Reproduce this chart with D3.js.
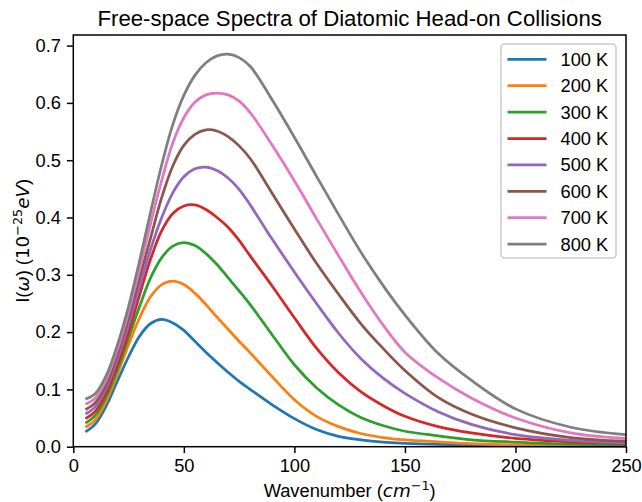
<!DOCTYPE html>
<html><head><meta charset="utf-8">
<script src="https://cdn.jsdelivr.net/npm/d3@7"></script>
<style>
html,body{margin:0;padding:0;background:#fff;}
svg text{font-family:"Liberation Sans",Arial,Helvetica,sans-serif;fill:#000;}
</style></head>
<body>
<svg id="chart" width="642" height="502"></svg>
<script>
// ---- data ----
const wavenumbers = [5.5, 10, 15, 20, 25, 30, 35, 40, 45, 50, 55, 60, 65, 70, 75, 80, 90, 100, 110, 120, 130, 140, 150, 165, 180, 200, 225, 250];
const seriesNames = ["100 K", "200 K", "300 K", "400 K", "500 K", "600 K", "700 K", "800 K"];
const i100 = [.026, .040, .072, .115, .157, .193, .215, .222, .216, .203, .184, .165, .147, .130, .114, .100, .073, .049, .030, .018, .012, .008, .006, .004, .003, .002, .001, .001];
const i200 = [.034, .047, .080, .127, .178, .225, .262, .283, .289, .283, .268, .248, .226, .205, .184, .164, .122, .082, .053, .035, .023, .016, .012, .0085, .0055, .003, .002, .001];
const i300 = [.041, .055, .088, .135, .190, .245, .295, .330, .350, .356, .351, .337, .318, .295, .272, .248, .195, .143, .103, .073, .051, .037, .027, .019, .012, .008, .0045, .003];
const i400 = [.049, .062, .095, .143, .200, .265, .328, .377, .407, .420, .422, .414, .400, .383, .360, .333, .280, .225, .172, .129, .096, .072, .053, .035, .024, .0145, .0085, .0055];
const i500 = [.057, .070, .103, .153, .213, .280, .345, .400, .443, .471, .485, .488, .482, .469, .449, .422, .362, .305, .250, .198, .154, .120, .093, .061, .039, .021, .011, .0065];
const i600 = [.065, .077, .110, .162, .225, .295, .365, .435, .490, .526, .545, .553, .551, .541, .525, .503, .442, .380, .320, .266, .215, .172, .133, .086, .057, .033, .016, .0095];
const i700 = [.074, .085, .118, .170, .235, .310, .390, .465, .530, .574, .601, .614, .617, .614, .603, .583, .526, .464, .398, .333, .270, .213, .165, .120, .085, .050, .024, .014];
const i800 = [.083, .093, .125, .178, .245, .325, .410, .492, .562, .613, .648, .670, .682, .685, .679, .664, .605, .540, .472, .405, .340, .282, .230, .163, .116, .066, .034, .021];
const seriesValues = [i100, i200, i300, i400, i500, i600, i700, i800];
const colors = ["#1f77b4", "#ff7f0e", "#2ca02c", "#d62728", "#9467bd", "#8c564b", "#e377c2", "#7f7f7f"];
const xTicks = [0, 50, 100, 150, 200, 250];
const yTicks = [0, 0.1, 0.2, 0.3, 0.4, 0.5, 0.6, 0.7];

// ---- layout ----
const L = 73.3, R = 626, T = 35, B = 446.7;
const FS = 18.3;
const MATH = "DejaVu Sans, sans-serif";
const svg = d3.select("#chart");
const x = d3.scaleLinear().domain([0, 250]).range([L, R]);
const y = d3.scaleLinear().domain([0, 0.7185]).range([B, T]);

// lines
const line = d3.line().x(d => x(d[0])).y(d => y(d[1])).curve(d3.curveCatmullRom.alpha(0.5));
const g = svg.append("g");
seriesValues.forEach((vals, i) => {
  g.append("path")
    .datum(wavenumbers.map((w, j) => [w, vals[j]]))
    .attr("fill", "none").attr("stroke", colors[i]).attr("stroke-width", 2.75)
    .attr("stroke-linejoin", "round").attr("stroke-linecap", "butt")
    .attr("d", line);
});

// frame
svg.append("rect").attr("x", L).attr("y", T).attr("width", R - L).attr("height", B - T)
  .attr("fill", "none").attr("stroke", "#000").attr("stroke-width", 1.5);

// axes
const xAxis = d3.axisBottom(x).tickValues(xTicks).tickFormat(d3.format("d")).tickSize(6.4).tickPadding(5.5);
const gx = svg.append("g").attr("transform", `translate(0,${B})`).call(xAxis);
const yAxis = d3.axisLeft(y).tickValues(yTicks).tickFormat(d3.format(".1f")).tickSize(6.4).tickPadding(6);
const gy = svg.append("g").attr("transform", `translate(${L},0)`).call(yAxis);
[gx, gy].forEach(a => {
  a.select(".domain").remove();
  a.selectAll(".tick line").attr("stroke", "#000").attr("stroke-width", 1.5);
  a.selectAll(".tick text").attr("font-size", FS).attr("font-family", "Liberation Sans, Arial, sans-serif").attr("fill", "#000");
});

// title
svg.append("text").attr("x", (L + R) / 2).attr("y", 25.5).attr("text-anchor", "middle")
  .attr("font-size", 22.2).text("Free-space Spectra of Diatomic Head-on Collisions");

// x label
const xl = svg.append("text").attr("x", (L + R) / 2).attr("y", 497).attr("text-anchor", "middle").attr("font-size", FS);
xl.append("tspan").text("Wavenumber (");
xl.append("tspan").attr("font-family", MATH).attr("font-style", "italic").text("cm");
xl.append("tspan").attr("font-family", MATH).attr("font-size", FS * 0.7).attr("dy", -7.5).text("\u22121");
xl.append("tspan").attr("dy", 7.5).text(")");

// y label
const yl = svg.append("text").attr("transform", `translate(29,${(T + B) / 2}) rotate(-90)`)
  .attr("text-anchor", "middle").attr("font-size", FS);
yl.append("tspan").text("I(");
yl.append("tspan").attr("font-family", MATH).attr("font-style", "italic").text("\u03c9");
yl.append("tspan").text(") (");
yl.append("tspan").attr("font-family", MATH).text("10");
yl.append("tspan").attr("font-family", MATH).attr("font-size", FS * 0.7).attr("dy", -7.5).text("\u221225");
yl.append("tspan").attr("font-family", MATH).attr("dy", 7.5).attr("font-style", "italic").text("eV");
yl.append("tspan").text(")");

// legend
const lg = svg.append("g");
lg.append("rect").attr("x", 501).attr("y", 44).attr("width", 115).attr("height", 214)
  .attr("rx", 3.7).attr("fill", "#fff").attr("fill-opacity", 0.8)
  .attr("stroke", "#cccccc").attr("stroke-width", 1.5);
seriesNames.forEach((name, i) => {
  const yy = 59.3 + i * 26.4;
  lg.append("line").attr("x1", 507.5).attr("x2", 546.5).attr("y1", yy).attr("y2", yy)
    .attr("stroke", colors[i]).attr("stroke-width", 2.75);
  lg.append("text").attr("x", 560.5).attr("y", yy + 6.5).attr("font-size", FS).text(name);
});
</script>
</body></html>
